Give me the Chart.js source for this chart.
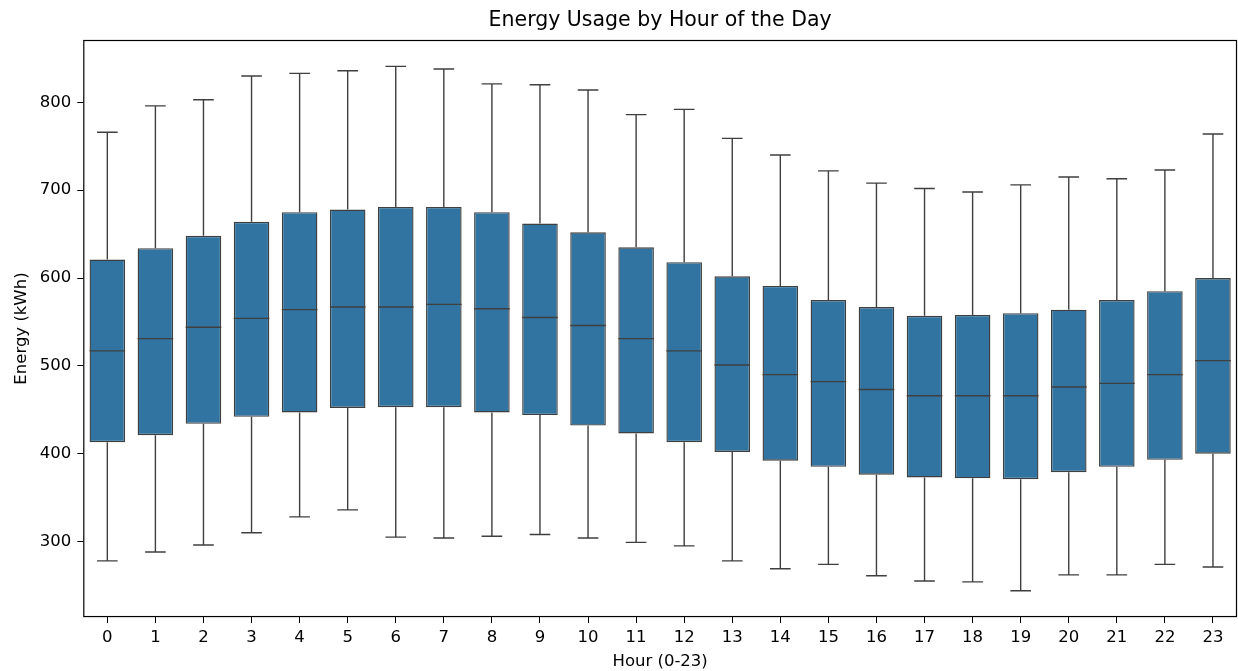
<!DOCTYPE html>
<html>
<head>
<meta charset="utf-8">
<script src="https://cdn.jsdelivr.net/npm/chart.js@4/dist/chart.umd.min.js"></script>
<style>
  body { margin: 0; background: #fff; }
  canvas { display: block; }
</style>
</head>
<body>
<canvas id="boxChart" width="1238" height="671"></canvas>
<script>
// valores (kWh por hora)
const hours = ["0","1","2","3","4","5","6","7","8","9","10","11","12","13","14","15","16","17","18","19","20","21","22","23"];
const whiskerLow = [278, 288, 296, 310, 328, 336, 305, 304, 306, 308, 304, 299, 295, 278, 269, 274, 261, 255, 254, 244, 262, 262, 274, 271];
const q1 = [413, 421, 434, 442, 447, 452, 453, 453, 447, 444, 432, 423, 413, 402, 392, 385, 376, 373, 372, 371, 379, 385, 393, 400];
const medians = [517, 531, 544, 554, 564, 567, 567, 570, 565, 555, 546, 531, 517, 501, 490, 482, 473, 466, 466, 466, 476, 480, 490, 506];
const q3 = [621, 634, 648, 664, 675, 678, 681, 681, 675, 662, 652, 635, 618, 602, 591, 575, 567, 557, 558, 560, 564, 575, 585, 600];
const whiskerHigh = [766, 796, 803, 830, 833, 836, 841, 838, 821, 820, 814, 786, 792, 759, 740, 722, 708, 702, 698, 706, 715, 713, 723, 764];
const yTicks = [300, 400, 500, 600, 700, 800];
const yMin = 214;
const yMax = 871;
const chartTitle = "Energy Usage by Hour of the Day";

const boxColor = "#3274a1";
const lineColor = "#3f3f3f";
const font = "'DejaVu Sans', sans-serif";

// bigotes, medianas, marco y titulo dibujados con las escalas del grafico
const boxPlotLines = {
  id: "boxPlotLines",
  afterDatasetsDraw(chart) {
    const ctx = chart.ctx;
    const x = chart.scales.x;
    const y = chart.scales.y;
    const meta = chart.getDatasetMeta(0);
    ctx.save();
    ctx.strokeStyle = lineColor;
    ctx.lineWidth = 1.4;
    meta.data.forEach((bar, i) => {
      const cx = x.getPixelForValue(i);
      const half = bar.width / 2;
      const cap = bar.width * 0.29;
      ctx.beginPath();
      // bigote superior
      ctx.moveTo(cx, y.getPixelForValue(q3[i]));
      ctx.lineTo(cx, y.getPixelForValue(whiskerHigh[i]));
      ctx.moveTo(cx - cap, y.getPixelForValue(whiskerHigh[i]));
      ctx.lineTo(cx + cap, y.getPixelForValue(whiskerHigh[i]));
      // bigote inferior
      ctx.moveTo(cx, y.getPixelForValue(q1[i]));
      ctx.lineTo(cx, y.getPixelForValue(whiskerLow[i]));
      ctx.moveTo(cx - cap, y.getPixelForValue(whiskerLow[i]));
      ctx.lineTo(cx + cap, y.getPixelForValue(whiskerLow[i]));
      // mediana
      ctx.moveTo(cx - half, y.getPixelForValue(medians[i]));
      ctx.lineTo(cx + half, y.getPixelForValue(medians[i]));
      ctx.stroke();
    });
    ctx.restore();
  },
  afterDraw(chart) {
    const a = chart.chartArea;
    const ctx = chart.ctx;
    ctx.save();
    ctx.strokeStyle = "#000";
    ctx.lineWidth = 1.2;
    ctx.strokeRect(a.left + 0.5, a.top + 0.5, a.right - a.left - 1, a.bottom - a.top - 1);
    // titulo centrado sobre el area del grafico (como matplotlib)
    ctx.fillStyle = "#000";
    ctx.font = "20.5px " + font;
    ctx.textAlign = "center";
    ctx.textBaseline = "middle";
    ctx.fillText(chartTitle, (a.left + a.right) / 2, 21);
    ctx.restore();
  },
};

new Chart(document.getElementById("boxChart"), {
  type: "bar",
  data: {
    labels: hours,
    datasets: [
      {
        data: hours.map((h, i) => [q1[i], q3[i]]),
        backgroundColor: boxColor,
        borderColor: lineColor,
        borderWidth: 1.4,
        borderSkipped: false,
        barPercentage: 0.74,
        categoryPercentage: 1,
      },
    ],
  },
  options: {
    responsive: false,
    animation: false,
    layout: { padding: { left: 0, right: 1, top: 40, bottom: 0 } },
    plugins: {
      legend: { display: false },
      tooltip: { enabled: false },
      title: { display: false },
    },
    scales: {
      x: {
        grid: { display: true, offset: false, drawOnChartArea: false, drawTicks: true, tickLength: 6, color: "#000" },
        border: { display: false },
        ticks: { color: "#000", font: { family: font, size: 16.5 }, padding: 5, maxRotation: 0 },
        title: {
          display: true,
          text: "Hour (0-23)",
          color: "#000",
          font: { family: font, size: 16.5, lineHeight: 1.1 },
          padding: { top: 0, bottom: 0 },
        },
      },
      y: {
        min: yMin,
        max: yMax,
        afterBuildTicks: (axis) => {
          axis.ticks = yTicks.map((v) => ({ value: v }));
        },
        grid: { display: true, drawOnChartArea: false, drawTicks: true, tickLength: 6, color: "#000" },
        border: { display: false },
        ticks: { color: "#000", font: { family: font, size: 16.5 }, padding: 6 },
        title: {
          display: true,
          text: "Energy (kWh)",
          color: "#000",
          font: { family: font, size: 16.5 },
          padding: { top: 12, bottom: 2 },
        },
      },
    },
  },
  plugins: [boxPlotLines],
});
</script>
</body>
</html>
